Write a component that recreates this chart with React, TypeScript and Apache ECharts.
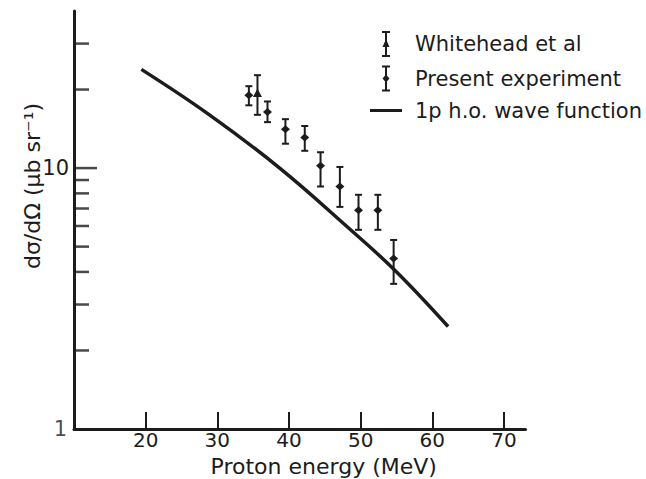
import React, { useEffect, useRef } from "react";
import * as echarts from "echarts";

// Present experiment (energy MeV, dσ/dΩ, lower, upper)
const presentEnergy = [34.4, 37.0, 39.5, 42.2, 44.4, 47.1, 49.7, 52.4, 54.6];
const presentValue = [19.0, 16.4, 14.1, 13.1, 10.2, 8.5, 6.9, 6.9, 4.5];
const presentLow = [17.4, 15.0, 12.4, 11.65, 8.5, 7.1, 5.8, 5.8, 3.6];
const presentHigh = [20.6, 18.0, 15.4, 14.5, 11.5, 10.1, 7.9, 7.9, 5.3];

// Whitehead et al
const whiteheadEnergy = [35.6];
const whiteheadValue = [19.3];
const whiteheadLow = [16.0];
const whiteheadHigh = [22.7];

// 1p h.o. wave function curve
const curveEnergy = [19.4, 28.9, 38.7, 48.0, 54.8, 62.2];
const curveValue = [23.9, 16.0, 10.0, 6.0, 4.05, 2.47];

// axis ticks
const xTickValues = [20, 30, 40, 50, 60, 70];
const yMinorTicks = [2, 3, 4, 5, 6, 7, 8, 9, 20, 30];
const yMajorTicks = [10];
const yLabelValues = [10];
const yOriginLabel = [1];

const INK = "#1c1c1c";
const FONT = "DejaVu Sans";

const ICON_PRESENT =
  "path://M0,0h8v2h-8z M3,0h2v26h-2z M0,24h8v2h-8z M4,9L7.5,13L4,17L0.5,13Z";
const ICON_WHITEHEAD =
  "path://M0,0h8v2h-8z M3,0h2v26h-2z M0,24h8v2h-8z M4,8L7.5,16L0.5,16Z";
const ICON_LINE = "path://M0,0h32v3h-32z";

function makeErrorRender(kind: "diamond" | "triangle") {
  return (params: any, api: any) => {
    const x = api.value(0);
    const y = api.value(1);
    const lo = api.value(2);
    const hi = api.value(3);
    const p = api.coord([x, y]);
    const pl = api.coord([x, lo]);
    const ph = api.coord([x, hi]);
    const cw = 3.5;
    const st = { stroke: INK, lineWidth: 2 };
    const marker =
      kind === "diamond"
        ? {
            type: "polygon",
            shape: {
              points: [
                [p[0], p[1] - 4],
                [p[0] + 4.5, p[1]],
                [p[0], p[1] + 4],
                [p[0] - 4.5, p[1]],
              ],
            },
            style: { fill: INK },
          }
        : {
            type: "polygon",
            shape: {
              points: [
                [p[0], p[1] - 5],
                [p[0] + 4.5, p[1] + 3.5],
                [p[0] - 4.5, p[1] + 3.5],
              ],
            },
            style: { fill: INK },
          };
    return {
      type: "group",
      children: [
        { type: "line", shape: { x1: p[0], y1: ph[1], x2: p[0], y2: pl[1] }, style: st },
        { type: "line", shape: { x1: p[0] - cw, y1: ph[1], x2: p[0] + cw, y2: ph[1] }, style: st },
        { type: "line", shape: { x1: p[0] - cw, y1: pl[1], x2: p[0] + cw, y2: pl[1] }, style: st },
        marker,
      ],
    };
  };
}

export default function App() {
  const ref = useRef<HTMLDivElement>(null);
  useEffect(() => {
    if (!ref.current) return;
    const chart = echarts.init(ref.current, undefined, { renderer: "svg" });
    const presentData = presentEnergy.map((e, i) => [e, presentValue[i], presentLow[i], presentHigh[i]]);
    const whiteheadData = whiteheadEnergy.map((e, i) => [e, whiteheadValue[i], whiteheadLow[i], whiteheadHigh[i]]);
    const curveData = curveEnergy.map((e, i) => [e, curveValue[i]]);
    const option: any = {
      animation: false,
      backgroundColor: "#ffffff",
      textStyle: { fontFamily: FONT, color: INK },
      grid: { left: 74, right: 120.5, top: 11, bottom: 50, containLabel: false, outerBoundsMode: "none" },
      legend: {
        orient: "vertical",
        left: 365,
        top: 26,
        itemWidth: 32,
        itemHeight: 26,
        itemGap: 8.5,
        selectedMode: false,
        textStyle: { fontFamily: FONT, fontSize: 21, color: INK, padding: [0, 0, 0, 8] },
        data: [
          { name: "Whitehead et al", icon: ICON_WHITEHEAD, itemStyle: { color: INK } },
          { name: "Present experiment", icon: ICON_PRESENT, itemStyle: { color: INK } },
          { name: "1p h.o. wave function", icon: ICON_LINE, itemStyle: { color: INK } },
        ],
      },
      xAxis: {
        type: "value",
        min: 10,
        max: 73,
        interval: 10,
        name: "Proton energy (MeV)",
        nameLocation: "middle",
        nameGap: 26,
        nameMoveOverlap: false,
        nameTextStyle: { fontFamily: FONT, fontSize: 22, lineHeight: 22, color: INK, padding: [0, 0, 0, 48] },
        axisLine: { show: true, lineStyle: { color: INK, width: 3 } },
        axisTick: { show: true, inside: true, length: 17, customValues: xTickValues, lineStyle: { color: INK, width: 2 } },
        axisLabel: {
          customValues: xTickValues,
          fontFamily: FONT,
          fontSize: 20,
          lineHeight: 18,
          color: INK,
          margin: 2,
          formatter: (v: number) => (xTickValues.indexOf(v) >= 0 ? String(v) : ""),
        },
        splitLine: { show: false },
      },
      yAxis: {
        type: "log",
        logBase: 10,
        min: 1,
        max: 40,
        name: "dσ/dΩ (μb sr⁻¹)",
        nameLocation: "middle",
        nameRotate: 90,
        nameGap: 31,
        nameMoveOverlap: false,
        nameTextStyle: { fontFamily: FONT, fontSize: 22, color: INK, padding: [0, 0, 0, 68] },
        axisLine: { show: true, lineStyle: { color: INK, width: 3 } },
        axisTick: { show: false },
        axisLabel: {
          fontFamily: FONT,
          fontSize: 21,
          color: INK,
          margin: 5,
          formatter: (v: number) => {
            for (const t of yLabelValues) if (Math.abs(v - t) < 1e-6 * t) return String(t);
            return "";
          },
        },
        splitLine: { show: false },
      },
      series: [
        {
          name: "1p h.o. wave function",
          type: "line",
          data: curveData,
          showSymbol: false,
          symbol: "none",
          smooth: 0.4,
          lineStyle: { color: INK, width: 3.5 },
          itemStyle: { color: INK },
          z: 3,
        },
        {
          name: "Present experiment",
          type: "custom",
          data: presentData,
          renderItem: makeErrorRender("diamond"),
          itemStyle: { color: INK },
          encode: { x: 0, y: 1 },
          z: 4,
        },
        {
          name: "Whitehead et al",
          type: "custom",
          data: whiteheadData,
          renderItem: makeErrorRender("triangle"),
          itemStyle: { color: INK },
          encode: { x: 0, y: 1 },
          z: 4,
        },
        {
          name: "yMinorTicks",
          type: "scatter",
          data: yMinorTicks.map((v) => [10, v]),
          symbol: "rect",
          symbolSize: [15, 2.5],
          symbolOffset: [7.5, 0],
          itemStyle: { color: INK },
          silent: true,
          clip: false,
          z: 5,
        },
        {
          name: "yMajorTicks",
          type: "scatter",
          data: yMajorTicks.map((v) => [10, v]),
          symbol: "rect",
          symbolSize: [23, 2.5],
          symbolOffset: [11.5, 0],
          itemStyle: { color: INK },
          silent: true,
          clip: false,
          z: 5,
        },
        {
          name: "yOriginLabel",
          type: "scatter",
          data: yOriginLabel.map((v) => [10, v]),
          symbol: "circle",
          symbolSize: 0,
          silent: true,
          clip: false,
          label: {
            show: true,
            position: "left",
            distance: 7,
            formatter: (p: any) => String(p.value[1]),
            fontFamily: FONT,
            fontSize: 21,
            color: INK,
          },
          z: 5,
        },
      ],
    };
    chart.setOption(option);
    return () => chart.dispose();
  }, []);
  return (
    <div
      ref={ref}
      style={{ position: "absolute", left: 0, top: 0, width: 646, height: 479, background: "#fff" }}
    />
  );
}
